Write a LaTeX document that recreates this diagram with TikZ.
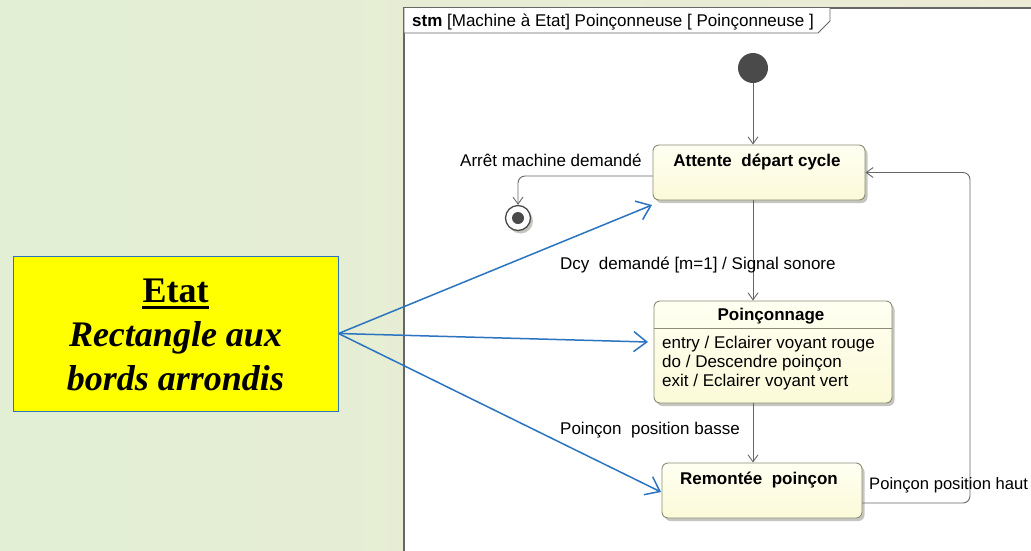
\documentclass[tikz,border=0pt]{standalone}
\usepackage{fontspec}
\setmainfont{Liberation Serif}
\newfontfamily\umlfont{Liberation Sans}
\usetikzlibrary{arrows.meta,calc}
\definecolor{bgleft}{HTML}{E2EFD4}
\definecolor{bgright}{HTML}{ECEBD5}
\definecolor{umlline}{HTML}{666666}
\definecolor{statedraw}{HTML}{8C8C78}
\definecolor{statetop}{HTML}{FFFFF2}
\definecolor{statebot}{HTML}{FBFAD8}
\definecolor{shadowgray}{HTML}{C6C6C0}
\definecolor{noteblue}{HTML}{2A74C0}
\definecolor{notefill}{HTML}{FFFF00}
\definecolor{dotgray}{HTML}{4A4A4A}
\tikzset{
  umltext/.style={font=\umlfont\fontsize{17}{19}\selectfont, inner sep=0pt},
  umltitle/.style={font=\umlfont\bfseries\fontsize{17}{19}\selectfont, inner sep=0pt},
  softshadow/.style={preaction={fill=shadowgray, draw=none, transform canvas={xshift=2.5pt, yshift=-3pt}}},
  umlstate/.style={draw=statedraw, line width=0.9pt, rounded corners=6pt,
    top color=statetop, bottom color=statebot, inner sep=0pt, softshadow},
  transition/.style={draw=umlline, line width=0.9pt, rounded corners=7pt,
    -{Straight Barb[length=7pt,width=10pt,line width=0.9pt]}},
  notearrow/.style={draw=noteblue, line width=1.5pt,
    -{Straight Barb[length=13pt,width=20pt,line width=1.5pt]}},
  notetext/.style={font=\bfseries\itshape\fontsize{36}{44}\selectfont, inner sep=0pt}
}
\begin{document}
\begin{tikzpicture}[x=1pt,y=-1pt]
  % page background
  \shade[left color=bgleft, right color=bgright] (0,0) rectangle (1031,550);
  \useasboundingbox (0,0) rectangle (1031,550);

  % state machine frame and its header tab
  \fill[white] (404,8) rectangle (1035,554);
  \draw[umlline, line width=1.4pt] (404,554) -- (404,8) -- (1035,8);
  \draw[umlline, line width=0.9pt, fill=white] (404,8) -- (404,33) -- (818,33) -- (830,21) -- (830,8);
  \node[umltext, anchor=base west] (frametitle) at (412,26)
    {\textbf{stm} [Machine à Etat] Poinçonneuse [ Poinçonneuse ]};

  % pseudo-states
  \node[circle, fill=dotgray, minimum size=30pt, inner sep=0pt] (init) at (753,68) {};
  \node[circle, draw=dotgray, line width=1.3pt, fill=white, minimum size=25pt, inner sep=0pt,
        softshadow] (final) at (518,218) {};
  \node[circle, fill=dotgray, minimum size=12pt, inner sep=0pt] (finaldot) at (final) {};

  % states
  \node[umlstate, minimum width=212pt, minimum height=55pt] (attente) at (759,172.5) {};
  \node[umltitle, anchor=base] (attentetitle) at (757,166) {Attente~ départ cycle};

  \node[umlstate, minimum width=238pt, minimum height=102pt] (poinconnage) at (773,352) {};
  \node[umltitle, anchor=base] (poinconnagetitle) at (771,320) {Poinçonnage};
  \draw[statedraw, line width=0.9pt] (poinconnage.west |- 0,328) -- (poinconnage.east |- 0,328);
  \node[umltext, anchor=base west] (entryaction) at (662,348) {entry / Eclairer voyant rouge};
  \node[umltext, anchor=base west] (doaction) at (662,367) {do / Descendre poinçon};
  \node[umltext, anchor=base west] (exitaction) at (662,386) {exit / Eclairer voyant vert};

  \node[umlstate, minimum width=200pt, minimum height=55pt] (remontee) at (762,490.5) {};
  \node[umltitle, anchor=base] (remonteetitle) at (759,484) {Remontée~ poinçon};

  % transitions
  \draw[transition] (init.south) -- (init.south |- attente.north);
  \draw[transition] ($(attente.west)+(0,3.5)$) -| (final.north);
  \draw[transition] (init.south |- attente.south) -- (init.south |- poinconnage.north);
  \draw[transition] (init.south |- poinconnage.south) -- (init.south |- remontee.north);
  \coordinate (backturn) at (970,0);
  \draw[transition] ($(remontee.east)+(0,12.5)$) -| (backturn |- attente.east) -- (attente.east);

  % transition labels
  \node[umltext, anchor=base west] (lblarret) at (460,166) {Arrêt machine demandé};
  \node[umltext, anchor=base west] (lbldcy) at (560,269) {Dcy~ demandé [m=1] / Signal sonore};
  \node[umltext, anchor=base west] (lblbasse) at (560,434) {Poinçon~ position basse};
  \node[umltext, anchor=base west, font=\umlfont\fontsize{16.6}{19}\selectfont] (lblhaut) at (869,489) {Poinçon position haut};

  % annotation box
  \node[draw=noteblue, line width=1pt, fill=notefill, minimum width=325pt, minimum height=155pt,
        inner sep=0pt] (etat) at (175.5,333.5) {};
  \node[font=\bfseries\fontsize{36}{44}\selectfont, inner sep=0pt, anchor=base] (etattitle) at (175.5,302) {Etat};
  \draw[line width=2.8pt] ($(etattitle.base west)+(0,5.5)$) -- ($(etattitle.base east)+(0,5.5)$);
  \node[notetext, anchor=base] (etatline1) at (175.5,346) {Rectangle aux};
  \node[notetext, anchor=base] (etatline2) at (175.5,390) {bords arrondis};

  % pointers from the annotation to the states
  \coordinate (tipattente) at (652,205);
  \coordinate (tippoinconnage) at (648,342);
  \coordinate (tipremontee) at (661,492);
  \draw[notearrow] (etat.east) -- (tipattente);
  \draw[notearrow] (etat.east) -- (tippoinconnage);
  \draw[notearrow] (etat.east) -- (tipremontee);
\end{tikzpicture}
\end{document}
